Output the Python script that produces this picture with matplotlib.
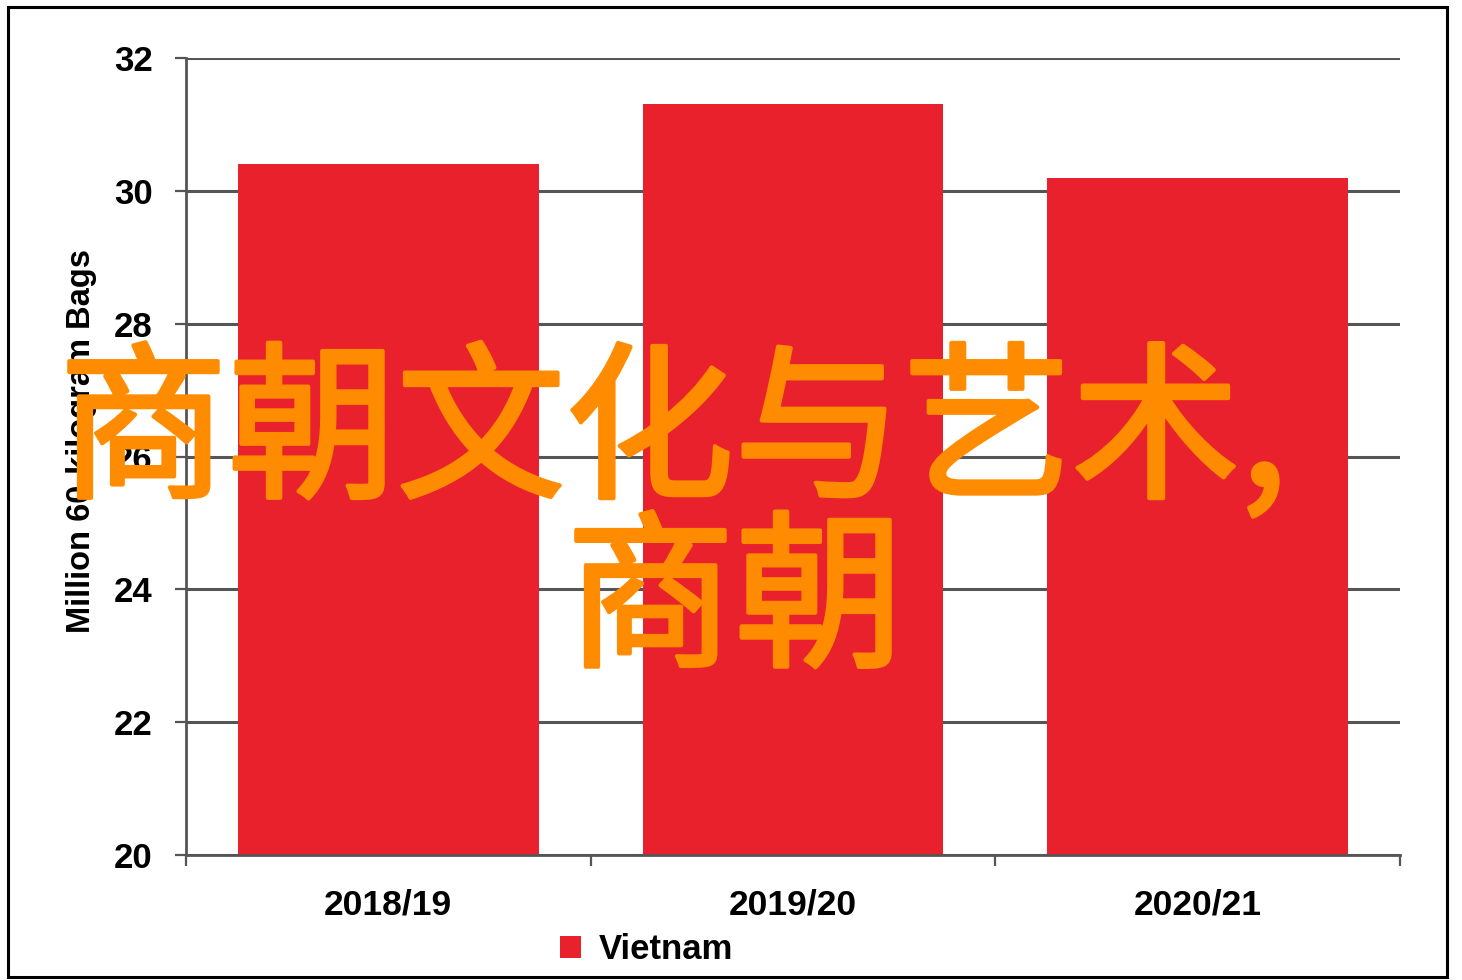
import numpy as np
import matplotlib.pyplot as plt
import matplotlib.patheffects as pe
from matplotlib.patches import Rectangle

# 数据
seasons = ['2018/19', '2019/20', '2020/21']
vietnam = [30.4, 31.3, 30.2]
y_ticks = [20, 22, 24, 26, 28, 30, 32]

bar_color = '#E9212D'
line_color = '#555555'
lab_font = ['Liberation Sans', 'DejaVu Sans']

fig = plt.figure(figsize=(14.62, 9.8), dpi=100)
ax = fig.add_axes([186 / 1462, 1 - 855 / 980, (1400 - 186) / 1462, (855 - 58) / 980])

x = np.arange(len(seasons))
ax.bar(x, vietnam, width=0.743, color=bar_color, zorder=3, label='Vietnam')

ax.set_xlim(-0.5, 2.5)
ax.set_ylim(20, 32)
ax.set_yticks(y_ticks)
ax.set_yticklabels([str(v) for v in y_ticks], fontsize=25, fontweight='bold',
                   family=lab_font)
ax.set_xticks(x)
ax.set_xticklabels(seasons, fontsize=25.5, fontweight='bold', family=lab_font)
ax.set_xticks([-0.5, 0.5, 1.5, 2.5], minor=True)
ax.tick_params(axis='x', which='major', length=0, pad=24)
ax.tick_params(axis='x', which='minor', length=8, width=1.6, color=line_color)
ax.tick_params(axis='y', length=8, width=1.6, color=line_color, pad=16)

ax.grid(axis='y', color=line_color, linewidth=2.2, zorder=1)
for s in ['top', 'right']:
    ax.spines[s].set_visible(False)
for s in ['left', 'bottom']:
    ax.spines[s].set_color(line_color)
    ax.spines[s].set_linewidth(2.0)
    ax.spines[s].set_zorder(4)

ax.set_ylabel('Million 60-kilogram Bags', fontsize=23.5, fontweight='bold',
              family=lab_font)
ax.yaxis.set_label_coords(-0.073, 0.52)

fig.legend(loc='center', bbox_to_anchor=(0.442, 0.031), frameon=False,
           prop={'family': lab_font, 'weight': 'bold', 'size': 25},
           handlelength=0.62, handleheight=0.62, handletextpad=0.5)

# 叠加文字
orange = '#FF8C00'
cjk = ['Noto Sans CJK SC', 'DejaVu Sans']
heavy = [pe.withStroke(linewidth=3, foreground=orange)]
fig.text(59 / 1462, 1 - 349 / 980, '商朝文化与艺术,', fontsize=121.5, color=orange,
         family=cjk, ha='left', va='top', path_effects=heavy)
fig.text(566 / 1462, 1 - 519 / 980, '商朝', fontsize=121.5, color=orange,
         family=cjk, ha='left', va='top', path_effects=heavy)

# 外框
fig.patches.append(Rectangle((8 / 1462, 3 / 980), 1439 / 1462, 970 / 980,
                             transform=fig.transFigure, fill=False,
                             edgecolor='black', linewidth=2.2))

fig.savefig('out.png', dpi=100)
